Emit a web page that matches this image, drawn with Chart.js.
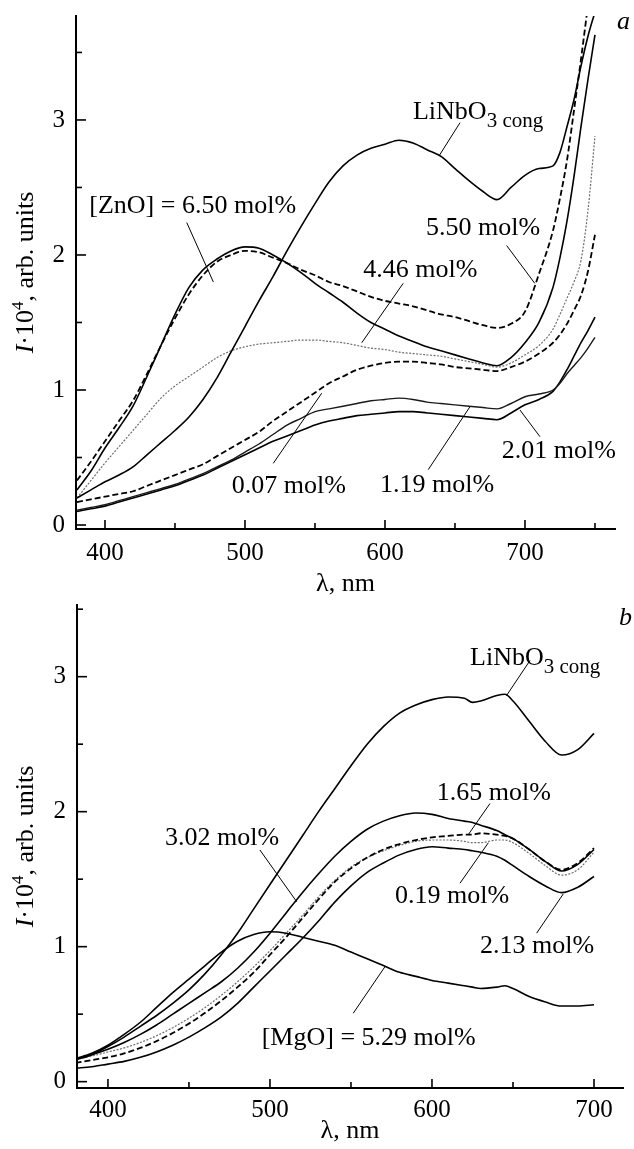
<!DOCTYPE html>
<html><head><meta charset="utf-8">
<script src="https://cdn.jsdelivr.net/npm/chart.js@4"></script>
<style>
html,body{margin:0;padding:0;background:#fff;}
#wrap{position:relative;width:634px;height:1149px;overflow:hidden;}
#ca{position:absolute;left:0;top:0;}
#cb{position:absolute;left:0;top:600px;}
</style></head><body>
<div id="wrap"><canvas id="ca" width="634" height="600"></canvas><canvas id="cb" width="634" height="549"></canvas></div>
<script>
// ---------- Panel a: ZnO-doped LiNbO3 ----------
const lambdaA = [380,390,400,410,420,430,440,450,460,470,480,490,500,510,520,530,540,550,560,570,580,590,600,610,620,630,640,650,660,670,680,690,700,710,720,725,730,735,740,745,750];
const linbA = [0.20,0.26,0.32,0.37,0.43,0.52,0.61,0.70,0.80,0.93,
 1.09,1.28,1.47,1.66,1.84,2.03,2.21,2.38,2.54,2.66,
 2.74,2.79,2.82,2.85,2.83,2.78,2.73,2.64,2.55,2.47,
 2.41,2.50,2.59,2.64,2.66,
 2.76,2.95,3.15,3.40,3.62,3.80];
const zn650 = [0.26,0.40,0.57,0.72,0.88,1.10,1.33,1.56,1.76,1.89,
 1.97,2.03,2.06,2.05,2.00,1.94,1.87,1.79,1.72,1.65,
 1.57,1.50,1.45,1.40,1.36,1.32,1.29,1.26,1.23,1.20,
 1.18,1.24,1.35,1.50,1.76,
 1.98,2.25,2.58,2.95,3.30,3.63];
const zn550 = [0.33,0.47,0.62,0.77,0.92,1.12,1.33,1.53,1.71,1.85,
 1.95,2.00,2.03,2.02,1.98,1.94,1.89,1.85,1.80,1.77,
 1.73,1.69,1.66,1.64,1.62,1.59,1.56,1.54,1.51,1.48,
 1.46,1.49,1.58,1.86,2.18,
 2.42,2.70,3.07,3.45,3.85,4.25];
const zn446 = [0.20,0.33,0.46,0.58,0.70,0.82,0.94,1.03,1.10,1.17,
 1.24,1.29,1.32,1.34,1.35,1.36,1.37,1.37,1.36,1.35,
 1.33,1.31,1.30,1.28,1.27,1.26,1.25,1.23,1.21,1.19,
 1.17,1.20,1.26,1.33,1.45,
 1.56,1.68,1.80,1.96,2.33,2.88];
const zn007 = [0.17,0.19,0.21,0.23,0.25,0.29,0.33,0.37,0.41,0.45,
 0.51,0.57,0.63,0.69,0.77,0.84,0.91,0.98,1.05,1.10,
 1.15,1.18,1.20,1.21,1.21,1.20,1.19,1.17,1.16,1.15,
 1.14,1.17,1.21,1.27,1.35,
 1.41,1.49,1.59,1.70,1.88,2.15];
const zn119 = [0.11,0.13,0.15,0.18,0.21,0.24,0.27,0.30,0.34,0.38,
 0.43,0.48,0.54,0.60,0.67,0.74,0.79,0.84,0.86,0.88,
 0.90,0.92,0.93,0.94,0.93,0.91,0.90,0.89,0.88,0.87,
 0.86,0.90,0.95,0.97,1.00,
 1.05,1.12,1.18,1.24,1.31,1.39];
const zn201 = [0.10,0.12,0.14,0.17,0.20,0.23,0.26,0.29,0.33,0.37,
 0.42,0.47,0.52,0.57,0.62,0.66,0.70,0.74,0.77,0.79,
 0.81,0.82,0.83,0.84,0.84,0.83,0.82,0.81,0.80,0.79,
 0.78,0.83,0.89,0.93,0.99,
 1.06,1.15,1.25,1.35,1.44,1.54];
const xTicksA = [400,500,600,700];
const xTickLabelsA = ['400','500','600','700'];
const xMinorA = [450,550,650,750];
const yTicksA = [0,1,2,3];
const yTickLabelsA = ['0','1','2','3'];
const yMinorA = [0.5,1.5,2.5,3.5];

// ---------- Panel b: MgO-doped LiNbO3 ----------
const lambdaB = [380,390,400,410,420,430,440,450,460,470,480,490,500,510,520,530,540,550,560,570,580,590,600,610,620,625,630,640,645,650,660,670,680,690,700];
const linbB = [0.16,0.20,0.26,0.33,0.41,0.49,0.58,0.68,0.80,0.94,
 1.10,1.28,1.46,1.64,1.82,2.00,2.17,2.34,2.50,2.63,
 2.73,2.79,2.83,2.85,2.84,
 2.81,2.82,2.86,2.87,2.82,
 2.67,2.52,2.42,2.46,2.58];
const mg529 = [0.17,0.21,0.27,0.35,0.44,0.55,0.66,0.76,0.86,0.96,
 1.04,1.09,1.11,1.10,1.07,1.04,1.01,0.96,0.91,0.86,
 0.81,0.78,0.75,0.73,0.71,
 0.70,0.69,0.70,0.71,0.69,
 0.63,0.59,0.56,0.56,0.57];
const mg302 = [0.17,0.20,0.24,0.29,0.35,0.42,0.50,0.58,0.66,0.74,
 0.84,0.96,1.10,1.25,1.40,1.54,1.67,1.78,1.87,1.93,
 1.97,1.99,1.98,1.95,1.93,
 1.92,1.90,1.86,1.83,1.80,
 1.72,1.63,1.56,1.61,1.72];
const mg165 = [0.14,0.16,0.18,0.21,0.25,0.30,0.36,0.43,0.51,0.60,
 0.70,0.81,0.94,1.07,1.21,1.35,1.48,1.58,1.66,1.72,
 1.76,1.79,1.81,1.82,1.83,
 1.83,1.84,1.83,1.82,1.80,
 1.72,1.63,1.57,1.62,1.73];
const mg019 = [0.17,0.19,0.22,0.25,0.29,0.34,0.40,0.47,0.55,0.64,
 0.74,0.85,0.97,1.10,1.23,1.37,1.49,1.59,1.66,1.71,
 1.75,1.78,1.79,1.79,1.78,
 1.77,1.77,1.79,1.79,1.77,
 1.69,1.60,1.53,1.57,1.70];
const mg213 = [0.10,0.11,0.13,0.15,0.18,0.22,0.27,0.33,0.40,0.48,
 0.58,0.70,0.82,0.94,1.06,1.19,1.33,1.45,1.55,1.62,
 1.68,1.72,1.74,1.73,1.72,
 1.71,1.70,1.67,1.64,1.60,
 1.52,1.45,1.40,1.44,1.52];
const xTicksB = [400,500,600,700];
const xTickLabelsB = ['400','500','600','700'];
const xMinorB = [450,550,650];
const yTicksB = [0,1,2,3];
const yTickLabelsB = ['0','1','2','3'];
const yMinorB = [0.5,1.5,2.5,3.5];

// ---------- styles ----------
const FAM = '"Liberation Serif", "Times New Roman", serif';
const F_NOTE = '26px ' + FAM;
const F_SUB = '21px ' + FAM;
const F_IT = 'italic 26px ' + FAM;
const F_SUP = '17px ' + FAM;
const SOLID = {borderColor:'#000', borderWidth:1.6};
const THIN = {borderColor:'#1a1a1a', borderWidth:1.4};
const DASH = {borderColor:'#000', borderWidth:1.8, borderDash:[6,3]};
const GRAY = {borderColor:'#6e6e6e', borderWidth:1.2, borderDash:[2,1.5]};

function pts(xs, ys){ return xs.map((x,i)=>({x:x, y:ys[i]})); }
function ds(label, xs, ys, style){
  return Object.assign({label:label, data:pts(xs,ys), pointRadius:0, fill:false, cubicInterpolationMode:'monotone'}, style);
}

function makeScales(xr, yr, xt, xl, yt, yl, yW, xH, xPad){
  const zeroPad = s => { s.paddingLeft = 0; s.paddingRight = 0; s.paddingTop = 0; s.paddingBottom = 0; };
  const tickFont = {family: FAM, size: 25};
  return {
    x: {type:'linear', min:xr[0], max:xr[1],
      afterBuildTicks: s => { s.ticks = xt.map(v=>({value:v})); },
      afterFit: s => { s.height = xH; zeroPad(s); },
      ticks: {autoSkip:false, maxRotation:0, minRotation:0, padding:xPad, color:'#000', font:tickFont,
        callback: (v,i) => xl[i]},
      grid: {display:true, drawOnChartArea:false, drawTicks:false},
      border: {display:true, color:'#000', width:2}},
    y: {type:'linear', min:yr[0], max:yr[1],
      afterBuildTicks: s => { s.ticks = yt.map(v=>({value:v})); },
      afterFit: s => { s.width = yW; zeroPad(s); },
      ticks: {autoSkip:false, padding:11, color:'#000', font:tickFont,
        callback: (v,i) => yl[i]},
      grid: {display:true, drawOnChartArea:false, drawTicks:false},
      border: {display:true, color:'#000', width:2}}
  };
}

function overlay(cfg){
  return {id:'overlay', afterDraw(chart){
    const ctx = chart.ctx, ca = chart.chartArea, sx = chart.scales.x, sy = chart.scales.y;
    const X = v => sx.getPixelForValue(v), Y = v => sy.getPixelForValue(v);
    const seg = (a,b,c,d) => { ctx.beginPath(); ctx.moveTo(a,b); ctx.lineTo(c,d); ctx.stroke(); };
    ctx.save();
    ctx.strokeStyle = '#000'; ctx.fillStyle = '#000';
    ctx.lineWidth = 1.6;
    cfg.xMajor.forEach(v => seg(X(v), ca.bottom, X(v), ca.bottom-9));
    cfg.xMinor.forEach(v => seg(X(v), ca.bottom, X(v), ca.bottom-6));
    cfg.yMajor.forEach(v => seg(ca.left, Y(v), ca.left+10, Y(v)));
    cfg.yMinor.forEach(v => seg(ca.left, Y(v), ca.left+6, Y(v)));
    ctx.lineWidth = 1;
    cfg.leaders.forEach(l => seg(X(l[0]), Y(l[1]), X(l[2]), Y(l[3])));
    ctx.textAlign = 'left'; ctx.textBaseline = 'alphabetic';
    cfg.notes.forEach(n => {
      const x0 = X(n.at[0]), y0 = Y(n.at[1]);
      ctx.font = F_NOTE; ctx.fillText(n.text, x0, y0);
      if (n.sub) { const w = ctx.measureText(n.text).width; ctx.font = F_SUB; ctx.fillText(n.sub, x0 + w, y0 + 8.5); }
    });
    // x title
    ctx.font = F_NOTE; ctx.textAlign = 'center';
    ctx.fillText('λ, nm', (ca.left+ca.right)/2, cfg.xTitleY);
    // y title (rotated, mixed styles)
    const parts = [{t:'I', f:F_IT, dy:0},{t:'·10', f:F_NOTE, dy:0},{t:'4', f:F_SUP, dy:-10},{t:', arb. units', f:F_NOTE, dy:0}];
    let tw = 0; parts.forEach(p => { ctx.font = p.f; p.w = ctx.measureText(p.t).width; tw += p.w; });
    ctx.save();
    ctx.translate(cfg.yTitleX, (ca.top+ca.bottom)/2);
    ctx.rotate(-Math.PI/2);
    ctx.textAlign = 'left';
    let cx = -tw/2;
    parts.forEach(p => { ctx.font = p.f; ctx.fillText(p.t, cx, p.dy); cx += p.w; });
    ctx.restore();
    // panel letter
    ctx.font = F_IT; ctx.textAlign = 'left';
    ctx.fillText(cfg.letter, cfg.letterPos[0], cfg.letterPos[1]);
    ctx.restore();
  }};
}

const commonOpts = {responsive:false, animation:false, devicePixelRatio:1,
  plugins:{legend:{display:false}, tooltip:{enabled:false}}};

// ---------- Chart a ----------
new Chart(document.getElementById('ca'), {
  type:'line',
  data:{datasets:[
    ds('LiNbO3 cong', lambdaA, linbA, SOLID),
    ds('[ZnO] = 6.50 mol%', lambdaA, zn650, SOLID),
    ds('5.50 mol%', lambdaA, zn550, DASH),
    ds('4.46 mol%', lambdaA, zn446, GRAY),
    ds('0.07 mol%', lambdaA, zn007, DASH),
    ds('1.19 mol%', lambdaA, zn119, THIN),
    ds('2.01 mol%', lambdaA, zn201, SOLID)
  ]},
  options: Object.assign({}, commonOpts, {
    layout:{padding:{top:16, right:19, left:0, bottom:0}},
    scales: makeScales([379.3,764.3],[-0.0296,3.770], xTicksA, xTickLabelsA, yTicksA, yTickLabelsA, 76, 71, 9)
  }),
  plugins:[overlay({
    xMajor:xTicksA, xMinor:xMinorA, yMajor:yTicksA, yMinor:yMinorA,
    leaders:[[653.6,2.98,639,2.74],[458.4,2.24,477.4,1.80],[686.9,2.07,707,1.79],[613,1.79,583.4,1.35],
             [520.2,0.457,554.8,0.976],[630.9,0.41,660.7,0.876],[710.7,0.654,696.4,0.852]],
    notes:[{text:'LiNbO', sub:'3 cong', at:[620,3.01]},
           {text:'[ZnO] = 6.50 mol%', at:[388.8,2.31]},
           {text:'5.50 mol%', at:[629.3,2.15]},
           {text:'4.46 mol%', at:[584.5,1.84]},
           {text:'0.07 mol%', at:[490.5,0.235]},
           {text:'1.19 mol%', at:[596.4,0.247]},
           {text:'2.01 mol%', at:[683.4,0.494]}],
    xTitleY:590.5, yTitleX:33, letter:'a', letterPos:[617,28.5]
  })]
});

// ---------- Chart b ----------
new Chart(document.getElementById('cb'), {
  type:'line',
  data:{datasets:[
    ds('LiNbO3 cong', lambdaB, linbB, SOLID),
    ds('[MgO] = 5.29 mol%', lambdaB, mg529, SOLID),
    ds('3.02 mol%', lambdaB, mg302, SOLID),
    ds('1.65 mol%', lambdaB, mg165, DASH),
    ds('0.19 mol%', lambdaB, mg019, GRAY),
    ds('2.13 mol%', lambdaB, mg213, SOLID)
  ]},
  options: Object.assign({}, commonOpts, {
    layout:{padding:{top:5, right:11, left:0, bottom:0}},
    scales: makeScales([380.9,717.9],[-0.047,3.531], xTicksB, xTickLabelsB, yTicksB, yTickLabelsB, 77, 61, 7)
  }),
  plugins:[overlay({
    xMajor:xTicksB, xMinor:xMinorB, yMajor:yTicksB, yMinor:yMinorB,
    leaders:[[660.5,3.12,646,2.86],[635.8,2.06,622.4,1.83],[617.3,1.47,634.8,1.77],[664.6,1.10,681,1.39],
             [493.8,1.716,516.5,1.333],[551.4,0.507,571,0.852]],
    notes:[{text:'LiNbO', sub:'3 cong', at:[623.5,3.09]},
           {text:'1.65 mol%', at:[602.9,2.087]},
           {text:'0.19 mol%', at:[577.2,1.32]},
           {text:'2.13 mol%', at:[629.6,0.951]},
           {text:'3.02 mol%', at:[435.2,1.753]},
           {text:'[MgO] = 5.29 mol%', at:[494.9,0.271]}],
    xTitleY:538, yTitleX:33, letter:'b', letterPos:[619,25]
  })]
});
</script>
</body></html>
